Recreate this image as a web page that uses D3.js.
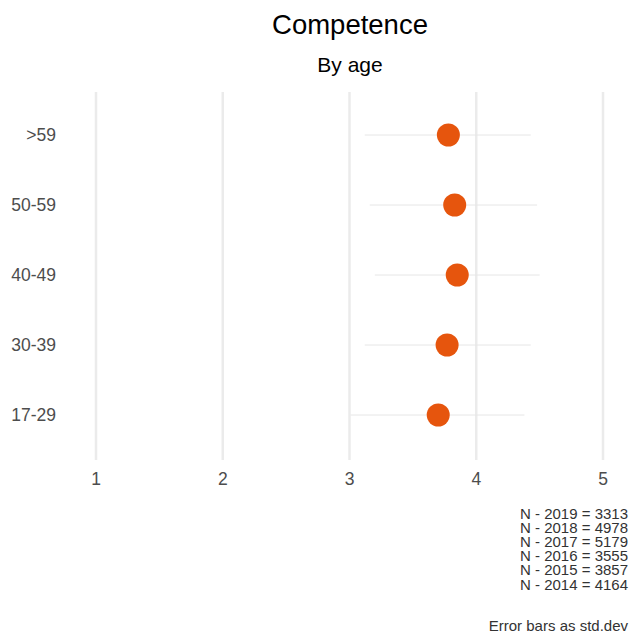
<!DOCTYPE html>
<html><head><meta charset="utf-8">
<script src="https://cdn.jsdelivr.net/npm/d3@7"></script>
<style>body{margin:0;background:#fff;} text{font-family:"Liberation Sans",Arial,sans-serif;}</style>
</head><body>
<svg id="chart" width="632" height="635"></svg>
<script>
const categories = [">59", "50-59", "40-49", "30-39", "17-29"];
const means = [3.78, 3.83, 3.85, 3.77, 3.70];
const lower = [3.12, 3.16, 3.20, 3.12, 3.01];
const upper = [4.43, 4.48, 4.50, 4.43, 4.38];
const xTicks = [1, 2, 3, 4, 5];
const notes = ["N - 2019 = 3313", "N - 2018 = 4978", "N - 2017 = 5179", "N - 2016 = 3555", "N - 2015 = 3857", "N - 2014 = 4164"];
const caption = "Error bars as std.dev";
const title = "Competence";
const subtitle = "By age";

(function(){
const svg = d3.select("#chart");
const x = d3.scaleLinear().domain([1, 5]).range([96, 603]);
const y = d3.scalePoint().domain(categories).range([135, 415]);
const gTop = 92, gBottom = 460;

svg.append("g").selectAll("line").data(xTicks).join("line")
  .attr("x1", d => x(d)).attr("x2", d => x(d))
  .attr("y1", gTop).attr("y2", gBottom)
  .attr("stroke", "#EBEBEB").attr("stroke-width", 2.5);

svg.append("g").selectAll("text").data(xTicks).join("text")
  .attr("x", d => x(d)).attr("y", 485)
  .attr("text-anchor", "middle").attr("font-size", 17.5).attr("fill", "#4D4D4D")
  .text(d => d);

svg.append("g").selectAll("text").data(categories).join("text")
  .attr("x", 56).attr("y", d => y(d)).attr("dy", "0.35em")
  .attr("text-anchor", "end").attr("font-size", 17.5).attr("fill", "#4D4D4D")
  .text(d => d);

const data = categories.map((c, i) => ({c, m: means[i], lo: lower[i], hi: upper[i]}));

svg.append("g").selectAll("line").data(data).join("line")
  .attr("x1", d => x(d.lo)).attr("x2", d => x(d.hi))
  .attr("y1", d => y(d.c)).attr("y2", d => y(d.c))
  .attr("stroke", "#E6E6E6").attr("stroke-width", 1);

svg.append("g").selectAll("circle").data(data).join("circle")
  .attr("cx", d => x(d.m)).attr("cy", d => y(d.c)).attr("r", 11.5)
  .attr("fill", "#E6550D");

svg.append("text").attr("x", 350).attr("y", 34).attr("text-anchor", "middle")
  .attr("font-size", 27.5).attr("fill", "#000").text(title);
svg.append("text").attr("x", 350).attr("y", 72).attr("text-anchor", "middle")
  .attr("font-size", 21).attr("fill", "#000").text(subtitle);

const nt = svg.append("text").attr("text-anchor", "end")
  .attr("font-size", 15).attr("fill", "#333");
nt.selectAll("tspan").data(notes).join("tspan")
  .attr("x", 628).attr("y", (d, i) => 518.5 + i * 14.2)
  .text(d => d);
svg.append("text").attr("x", 628).attr("y", 631).attr("text-anchor", "end")
  .attr("font-size", 15).attr("fill", "#333").text(caption);
})();
</script>
</body></html>
